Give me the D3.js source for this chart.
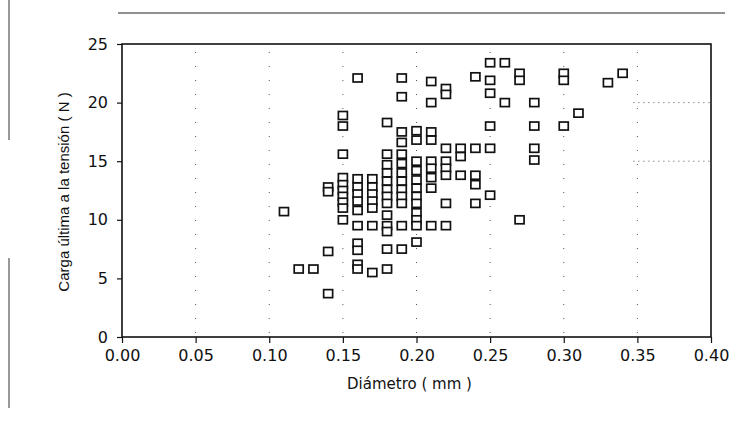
<!DOCTYPE html>
<html>
<head>
<meta charset="utf-8">
<script src="https://cdn.jsdelivr.net/npm/d3@7"></script>
<style>
  body { margin: 0; background: #fff; }
  svg { display: block; }
</style>
</head>
<body>
<svg id="chart" width="738" height="428"></svg>
<script>
// diameter (mm) per column and the load values read in each column
var diameters = [0.11, 0.12, 0.13, 0.14, 0.15, 0.16, 0.17, 0.18, 0.19, 0.20,
  0.21, 0.22, 0.23, 0.24, 0.25, 0.26, 0.27, 0.28, 0.30, 0.31, 0.33, 0.34];

var loads = [
  [10.7],
  [5.8],
  [5.8],
  [12.8, 12.4, 7.3, 3.7],
  [18.9, 18.0, 15.6, 13.6, 13.0, 12.5, 12.0, 11.5, 11.0, 10.0],
  [22.1, 13.5, 12.8, 12.2, 11.6, 10.8, 9.5, 8.0, 7.4, 6.2, 5.8],
  [13.5, 12.8, 12.2, 11.6, 11.0, 9.5, 5.5],
  [18.3, 15.6, 14.7, 14.0, 13.3, 12.6, 12.0, 11.4, 10.4, 9.5, 9.0, 7.5, 5.8],
  [22.1, 20.5, 17.5, 16.6, 15.6, 14.8, 14.0, 13.3, 12.6, 12.0, 11.4, 9.5, 7.5],
  [17.6, 16.8, 15.0, 14.2, 13.4, 12.7, 12.0, 11.4, 10.6, 10.0, 9.5, 8.1],
  [21.8, 20.0, 17.5, 16.8, 15.0, 14.4, 13.6, 12.7, 9.5],
  [21.2, 20.7, 16.1, 15.0, 14.4, 13.8, 11.4, 9.5],
  [16.1, 15.4, 13.8],
  [22.2, 16.1, 13.8, 13.0, 11.4],
  [23.4, 21.9, 20.8, 18.0, 16.1, 12.1],
  [23.4, 20.0],
  [22.5, 21.9, 10.0],
  [20.0, 18.0, 16.1, 15.1],
  [22.5, 21.9, 18.0],
  [19.1],
  [21.7],
  [22.5]
];

var xTicks = [0, 0.05, 0.10, 0.15, 0.20, 0.25, 0.30, 0.35, 0.40];
var yTicks = [0, 5, 10, 15, 20, 25];

var xTitle = 'Diámetro ( mm )';
var yTitle = 'Carga última a la tensión ( N )';

var margin = {top: 44, right: 27, bottom: 91, left: 122};
var width = 738, height = 428;
var wideFont = '"DejaVu Sans", sans-serif';
var plainFont = '"Liberation Sans", Arial, sans-serif';

var svg = d3.select('#chart');

var x = d3.scaleLinear().domain([0, 0.40])
  .range([margin.left, width - margin.right]);
var y = d3.scaleLinear().domain([0, 25])
  .range([height - margin.bottom, margin.top]);

var points = [];
diameters.forEach(function(d, i) {
  loads[i].forEach(function(v) {
    points.push({d: d, v: v});
  });
});

// faint scan-like dotted grid
var grid = svg.append('g').attr('class', 'grid');
grid.selectAll('line.vg')
  .data(xTicks.slice(1, -1))
  .enter().append('line')
  .attr('class', 'vg')
  .attr('x1', function(d) { return x(d); })
  .attr('x2', function(d) { return x(d); })
  .attr('y1', y(25) + 8)
  .attr('y2', y(0) - 4)
  .attr('stroke', '#555')
  .attr('stroke-width', 1)
  .attr('stroke-dasharray', '1,13');

grid.selectAll('line.hg')
  .data([15, 20])
  .enter().append('line')
  .attr('class', 'hg')
  .attr('x1', x(0.35) - 4)
  .attr('x2', x(0.40))
  .attr('y1', function(d) { return y(d); })
  .attr('y2', function(d) { return y(d); })
  .attr('stroke', '#555')
  .attr('stroke-width', 1)
  .attr('stroke-dasharray', '1,4');

// axes
var xAxis = d3.axisBottom(x).tickValues(xTicks)
  .tickFormat(d3.format('.2f')).tickSize(6).tickPadding(7);
var yAxis = d3.axisLeft(y).tickValues(yTicks)
  .tickFormat(d3.format('d')).tickSize(5).tickPadding(9);

var gx = svg.append('g')
  .attr('transform', 'translate(0,' + y(0) + ')')
  .call(xAxis);
var gy = svg.append('g')
  .attr('transform', 'translate(' + x(0) + ',0)')
  .call(yAxis);

[gx, gy].forEach(function(g) {
  g.select('.domain').remove();
  g.selectAll('line').attr('stroke', '#111').attr('stroke-width', 1.2);
  g.selectAll('text')
    .style('font-family', wideFont)
    .style('font-size', '16px')
    .style('fill', '#111');
});

// plot frame
svg.append('rect')
  .attr('x', x(0))
  .attr('y', y(25))
  .attr('width', x(0.40) - x(0))
  .attr('height', y(0) - y(25))
  .attr('fill', 'none')
  .attr('stroke', '#111')
  .attr('stroke-width', 1.6);

// markers: hollow squares
var size = 9;
svg.append('g').selectAll('rect.pt')
  .data(points)
  .enter().append('rect')
  .attr('class', 'pt')
  .attr('x', function(p) { return x(p.d) - size / 2; })
  .attr('y', function(p) { return y(p.v) - (size - 1) / 2; })
  .attr('width', size)
  .attr('height', size - 1)
  .attr('fill', '#fff')
  .attr('stroke', '#111')
  .attr('stroke-width', 1.7);

// axis titles
svg.append('text')
  .attr('x', (x(0) + x(0.40)) / 2 - 7)
  .attr('y', 389)
  .attr('text-anchor', 'middle')
  .style('font-family', wideFont)
  .style('font-size', '15px')
  .style('fill', '#111')
  .text(xTitle);

svg.append('text')
  .attr('transform', 'translate(69,' + 192 + ') rotate(-90)')
  .attr('text-anchor', 'middle')
  .style('font-family', plainFont)
  .style('font-size', '15px')
  .style('fill', '#111')
  .text(yTitle);

// scan edges of the page
svg.append('line')
  .attr('x1', 118).attr('x2', 725)
  .attr('y1', 13).attr('y2', 13)
  .attr('stroke', '#222').attr('stroke-width', 1.2);
svg.append('line')
  .attr('x1', 9).attr('x2', 9)
  .attr('y1', 0).attr('y2', 140)
  .attr('stroke', '#333').attr('stroke-width', 1);
svg.append('line')
  .attr('x1', 9).attr('x2', 9)
  .attr('y1', 258).attr('y2', 408)
  .attr('stroke', '#333').attr('stroke-width', 1);
</script>
</body>
</html>
